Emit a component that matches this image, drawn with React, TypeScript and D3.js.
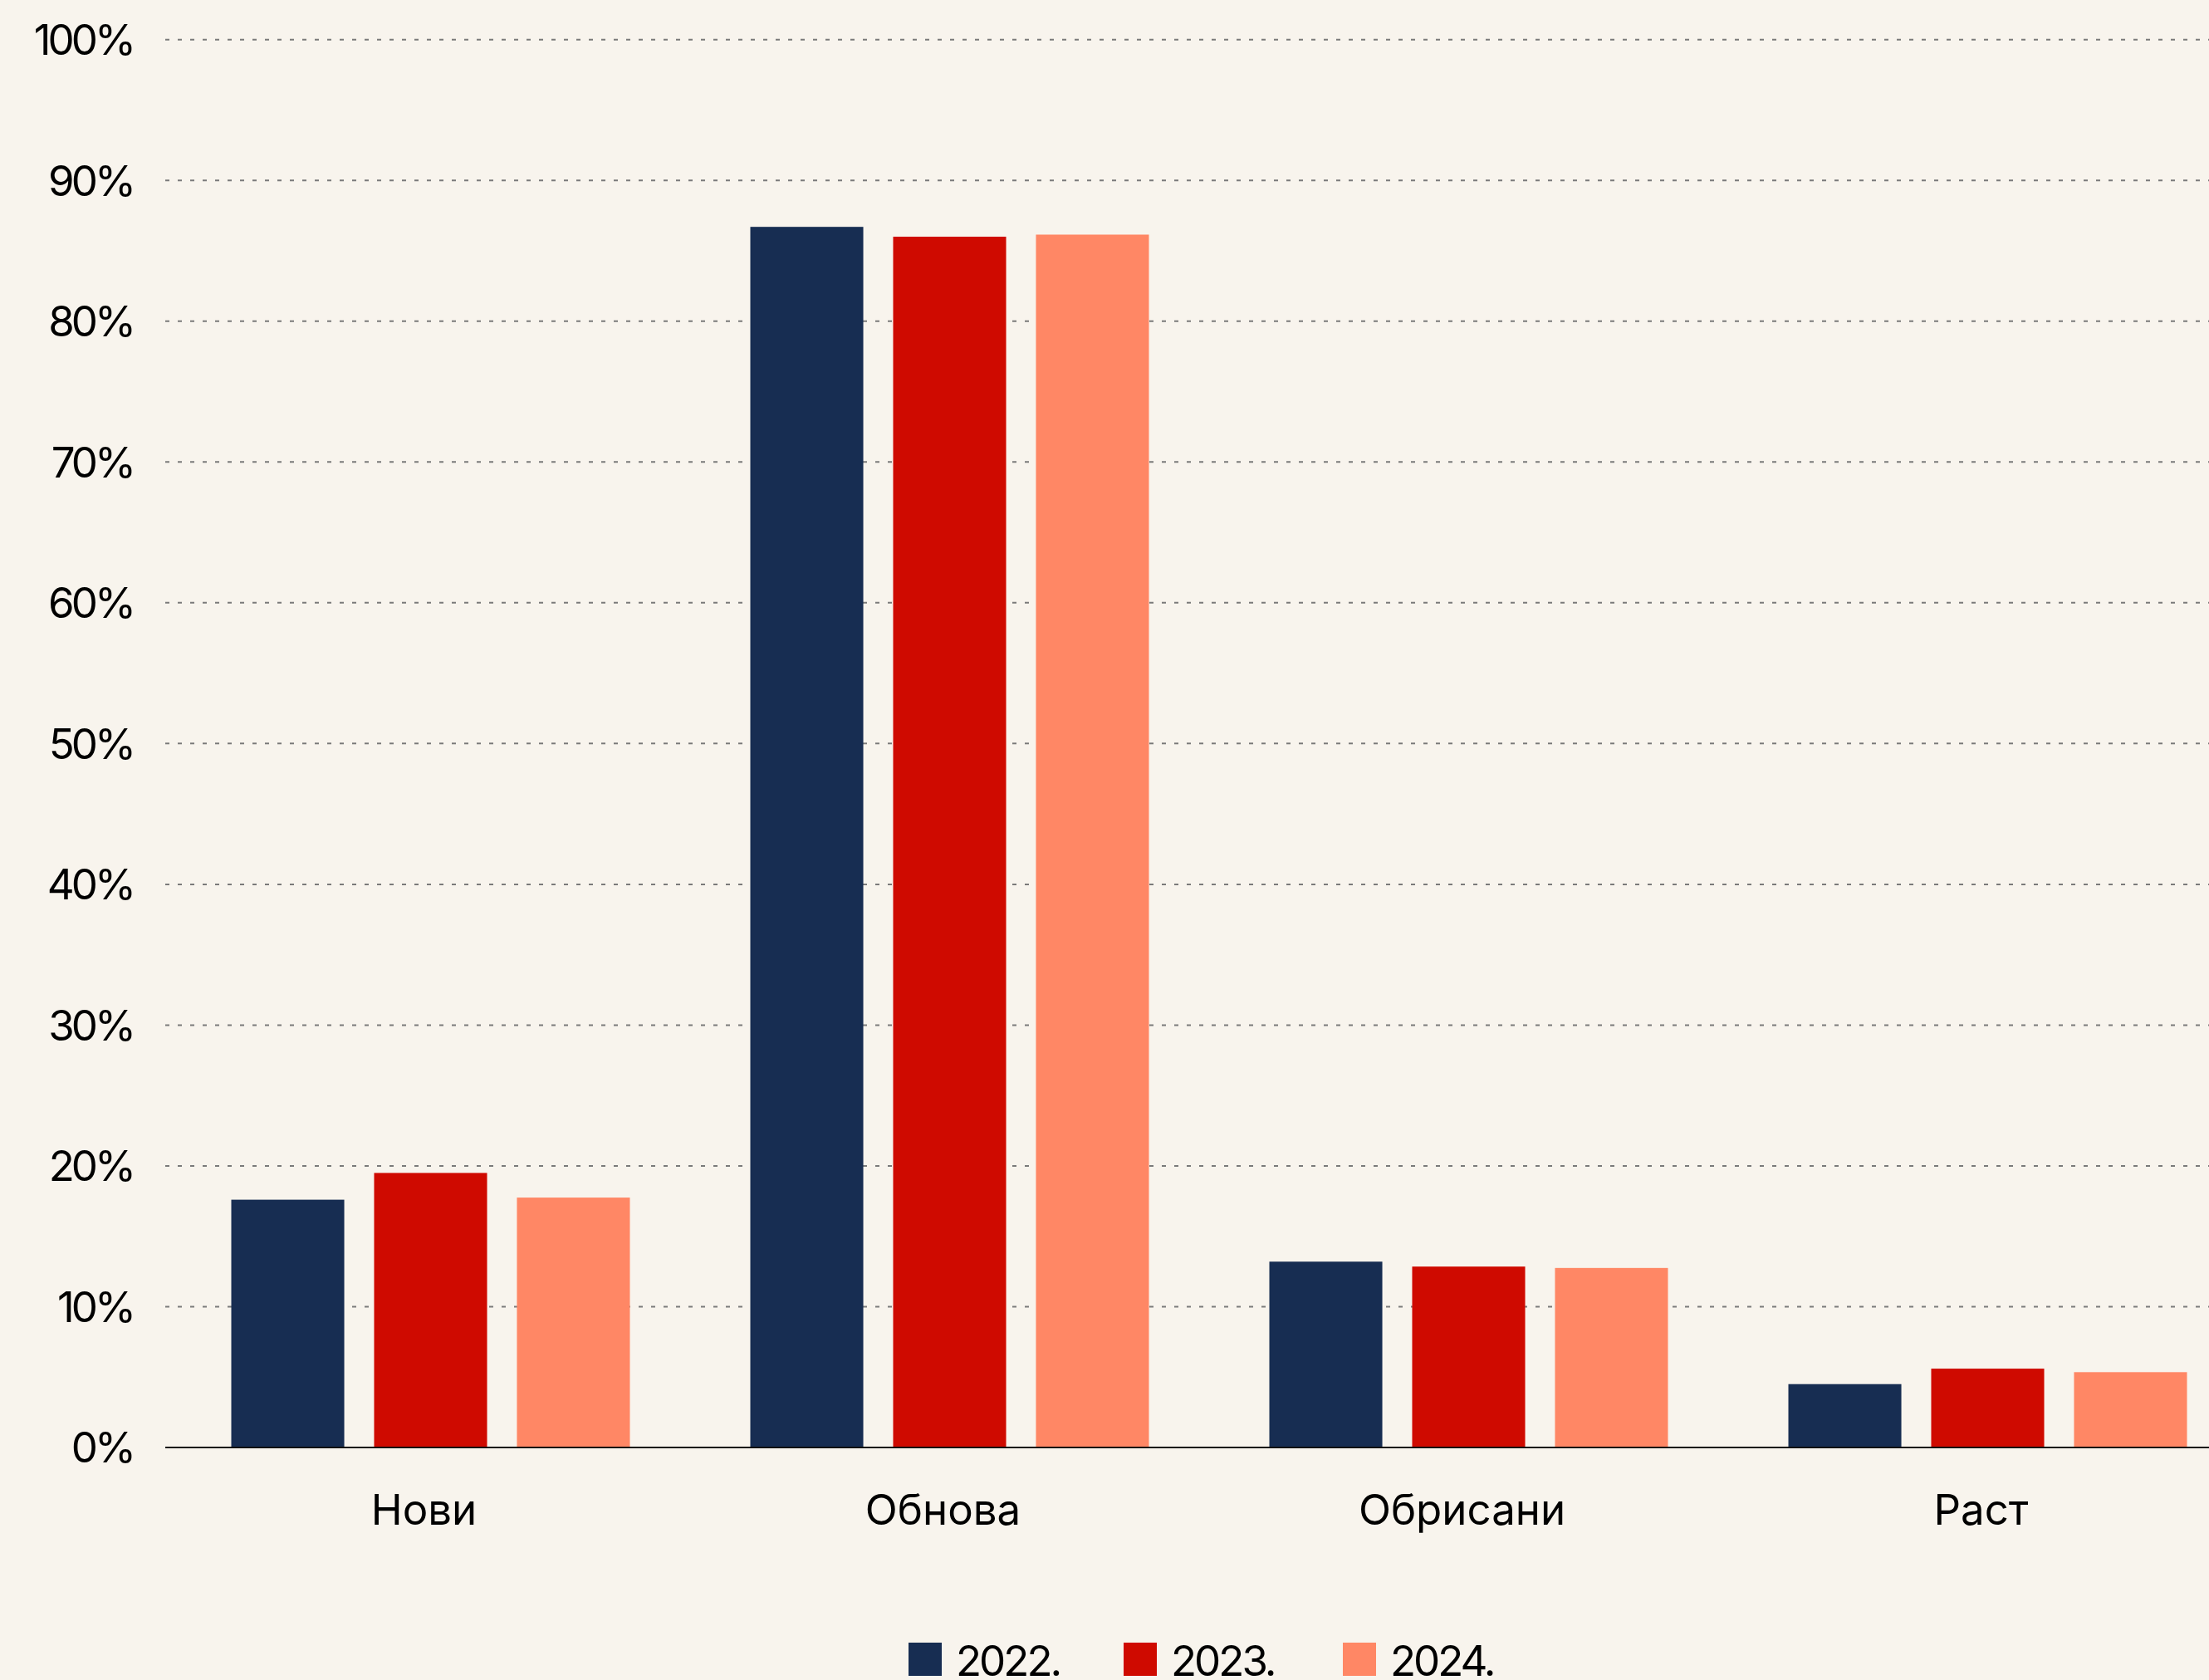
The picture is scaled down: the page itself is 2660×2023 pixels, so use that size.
import React, { useEffect } from "react";
import * as d3 from "d3";

const categories = ["Нови", "Обнова", "Обрисани", "Раст"];
const seriesNames = ["2022.", "2023.", "2024."];
const values2022 = [17.6, 86.7, 13.2, 4.5];
const values2023 = [19.5, 86.0, 12.85, 5.6];
const values2024 = [17.75, 86.15, 12.75, 5.35];
const yTicks = [0, 10, 20, 30, 40, 50, 60, 70, 80, 90, 100];
const colors = ["#172D52", "#CF0A00", "#FF8765"];

const W = 2660;
const H = 2023;
const BG = "#F8F4ED";
const FONT = "Inter, 'Noto Sans', sans-serif";

export default function App() {
  useEffect(() => {
    document.body.style.margin = "0";
    document.body.style.background = BG;
  }, []);

  const series = [values2022, values2023, values2024];
  const y = d3.scaleLinear().domain([0, 100]).range([1743, 47.7]);
  const x0 = d3
    .scaleBand<string>()
    .domain(categories)
    .range([206, 2706])
    .paddingInner(0.232)
    .paddingOuter(0.116);
  const x1 = d3
    .scaleBand<number>()
    .domain([0, 1, 2])
    .range([0, x0.bandwidth()])
    .paddingInner(0.209)
    .paddingOuter(0);

  const gridLeft = 199;
  const legendX = [1094, 1353, 1617];

  return (
    <svg
      width={W}
      height={H}
      viewBox={`0 0 ${W} ${H}`}
      style={{ position: "absolute", left: 0, top: 0, display: "block" }}
    >
      <rect x={0} y={0} width={W} height={H} fill={BG} />
      {yTicks.map((t) => (
        <g key={t}>
          {t > 0 && (
            <line
              x1={gridLeft}
              x2={W}
              y1={y(t)}
              y2={y(t)}
              stroke="#7a7a7a"
              strokeWidth={2}
              strokeDasharray="5 10"
            />
          )}
          <text
            x={160}
            y={y(t)}
            dy="0.36em"
            textAnchor="end"
            fontFamily={FONT}
            fontSize={51}
            letterSpacing={-4}
            fill="#000"
          >
            {`${t}%`}
          </text>
        </g>
      ))}
      {categories.map((c, ci) => (
        <g key={c} transform={`translate(${x0(c)},0)`}>
          {series.map((vals, si) => (
            <rect
              key={si}
              x={x1(si)}
              y={y(vals[ci])}
              width={x1.bandwidth()}
              height={y(0) - y(vals[ci])}
              fill={colors[si]}
            />
          ))}
          <text
            x={x0.bandwidth() / 2 - 8}
            y={1836}
            textAnchor="middle"
            fontFamily={FONT}
            fontSize={51}
            fill="#000"
          >
            {c}
          </text>
        </g>
      ))}
      <line x1={gridLeft} x2={W} y1={y(0)} y2={y(0)} stroke="#111" strokeWidth={2} />
      {seriesNames.map((n, i) => (
        <g key={n}>
          <rect x={legendX[i]} y={1978} width={40} height={40} fill={colors[i]} />
          <text
            x={legendX[i] + 57}
            y={2018}
            fontFamily={FONT}
            fontSize={51}
            letterSpacing={-3}
            fill="#000"
          >
            {n}
          </text>
        </g>
      ))}
    </svg>
  );
}
